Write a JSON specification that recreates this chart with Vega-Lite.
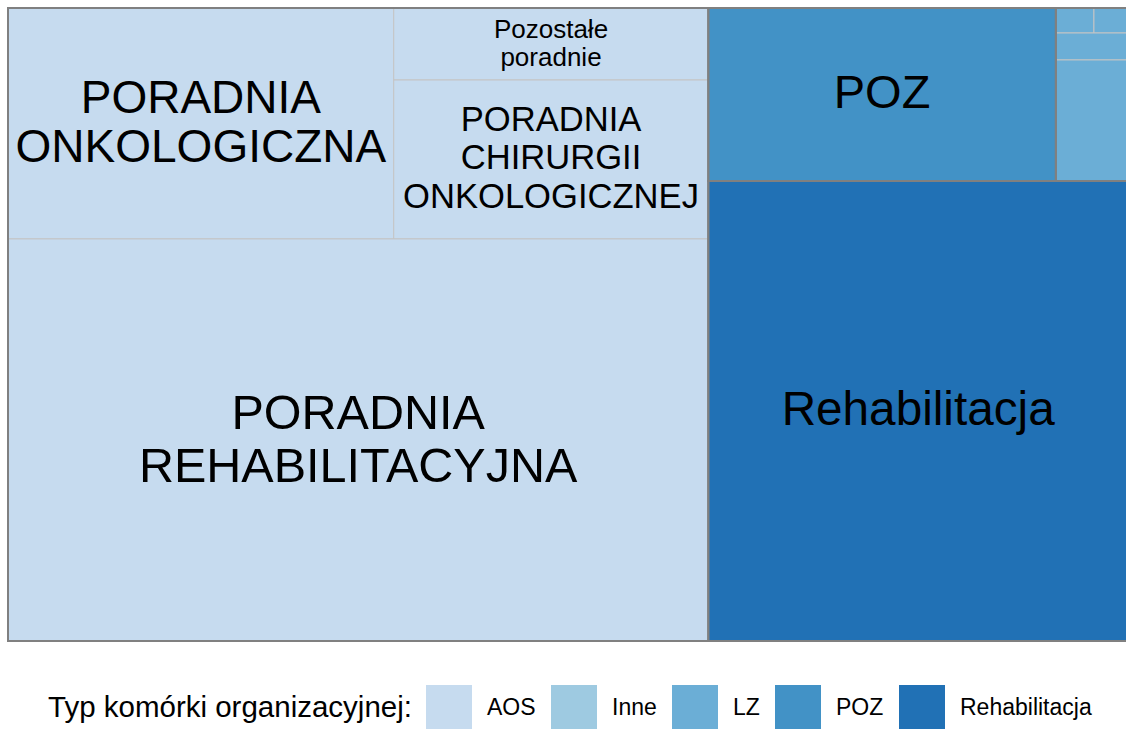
{
  "$schema": "https://vega.github.io/schema/vega-lite/v6.json",
  "width": 1120,
  "height": 633,
  "autosize": "none",
  "padding": {"left": 8, "top": 8, "right": 0, "bottom": 88},
  "background": "white",
  "config": {"view": {"stroke": null}, "font": "Liberation Sans"},
  "data": {
    "values": [
      {"id": "a1", "name": "PORADNIA ONKOLOGICZNA", "type": "AOS", "value": 889, "k1": 1, "k2": 1, "k3": 1, "k4": 1, "k5": 1},
      {"id": "a2", "name": "Pozostałe poradnie", "type": "AOS", "value": 226, "k1": 1, "k2": 1, "k3": 2, "k4": 1, "k5": 1},
      {"id": "a3", "name": "PORADNIA CHIRURGII ONKOLOGICZNEJ", "type": "AOS", "value": 499, "k1": 1, "k2": 1, "k3": 2, "k4": 2, "k5": 1},
      {"id": "a4", "name": "PORADNIA REHABILITACYJNA", "type": "AOS", "value": 2810, "k1": 1, "k2": 2, "k3": 1, "k4": 1, "k5": 1},
      {"id": "p1", "name": "POZ", "type": "POZ", "value": 600, "k1": 2, "k2": 1, "k3": 1, "k4": 1, "k5": 1},
      {"id": "l1", "name": "LZ 1", "type": "LZ", "value": 9.5, "k1": 2, "k2": 1, "k3": 2, "k4": 1, "k5": 1},
      {"id": "l2", "name": "LZ 2", "type": "LZ", "value": 8.5, "k1": 2, "k2": 1, "k3": 2, "k4": 1, "k5": 2},
      {"id": "l3", "name": "LZ 3", "type": "LZ", "value": 19.4, "k1": 2, "k2": 1, "k3": 2, "k4": 2, "k5": 1},
      {"id": "l4", "name": "LZ 4", "type": "LZ", "value": 87.1, "k1": 2, "k2": 1, "k3": 2, "k4": 3, "k5": 1},
      {"id": "r1", "name": "Rehabilitacja", "type": "Rehabilitacja", "value": 1927, "k1": 2, "k2": 2, "k3": 1, "k4": 1, "k5": 1}
    ]
  },
  "transform": [
    {"stack": "value", "groupby": [], "sort": [{"field": "k1", "order": "ascending"}], "offset": "normalize", "as": ["p1a", "p1b"]},
    {"joinaggregate": [{"op": "min", "field": "p1a", "as": "a1"}, {"op": "max", "field": "p1b", "as": "b1"}], "groupby": ["k1"]},
    {"stack": "value", "groupby": ["k1"], "sort": [{"field": "k2", "order": "ascending"}], "offset": "normalize", "as": ["p2a", "p2b"]},
    {"joinaggregate": [{"op": "min", "field": "p2a", "as": "a2"}, {"op": "max", "field": "p2b", "as": "b2"}], "groupby": ["k1", "k2"]},
    {"stack": "value", "groupby": ["k1", "k2"], "sort": [{"field": "k3", "order": "ascending"}], "offset": "normalize", "as": ["p3a", "p3b"]},
    {"joinaggregate": [{"op": "min", "field": "p3a", "as": "a3"}, {"op": "max", "field": "p3b", "as": "b3"}], "groupby": ["k1", "k2", "k3"]},
    {"stack": "value", "groupby": ["k1", "k2", "k3"], "sort": [{"field": "k4", "order": "ascending"}], "offset": "normalize", "as": ["p4a", "p4b"]},
    {"joinaggregate": [{"op": "min", "field": "p4a", "as": "a4"}, {"op": "max", "field": "p4b", "as": "b4"}], "groupby": ["k1", "k2", "k3", "k4"]},
    {"stack": "value", "groupby": ["k1", "k2", "k3", "k4"], "sort": [{"field": "k5", "order": "ascending"}], "offset": "normalize", "as": ["p5a", "p5b"]},
    {"joinaggregate": [{"op": "min", "field": "p5a", "as": "a5"}, {"op": "max", "field": "p5b", "as": "b5"}], "groupby": ["k1", "k2", "k3", "k4", "k5"]},
    {"calculate": "datum.a1 + (datum.b1 - datum.a1) * datum.a3", "as": "xa"},
    {"calculate": "datum.a1 + (datum.b1 - datum.a1) * datum.b3", "as": "xb"},
    {"calculate": "datum.xa + (datum.xb - datum.xa) * datum.a5", "as": "x0"},
    {"calculate": "datum.xa + (datum.xb - datum.xa) * datum.b5", "as": "x1"},
    {"calculate": "datum.a2 + (datum.b2 - datum.a2) * datum.a4", "as": "y0"},
    {"calculate": "datum.a2 + (datum.b2 - datum.a2) * datum.b4", "as": "y1"},
    {"calculate": "(datum.x0 + datum.x1) / 2", "as": "xc"},
    {"calculate": "(datum.y0 + datum.y1) / 2", "as": "yc"}
  ],
  "encoding": {
    "size": {
      "field": "name", "type": "nominal", "legend": null,
      "scale": {
        "type": "ordinal",
        "domain": ["PORADNIA ONKOLOGICZNA", "Pozostałe poradnie", "PORADNIA CHIRURGII ONKOLOGICZNEJ", "PORADNIA REHABILITACYJNA", "POZ", "Rehabilitacja"],
        "range": [46, 26, 34.6, 48.5, 47, 47.7]
      }
    }
  },
  "layer": [
    {
      "mark": {"type": "rect", "stroke": "#c4c4c4", "strokeWidth": 1},
      "encoding": {
        "size": null,
        "x": {"field": "x0", "type": "quantitative", "scale": {"domain": [0, 1], "nice": false, "zero": false}, "axis": null},
        "x2": {"field": "x1"},
        "y": {"field": "y0", "type": "quantitative", "scale": {"domain": [0, 1], "nice": false, "zero": false, "reverse": true}, "axis": null},
        "y2": {"field": "y1"},
        "color": {
          "field": "type", "type": "nominal",
          "scale": {"domain": ["AOS", "Inne", "LZ", "POZ", "Rehabilitacja"], "range": ["#c6dbef", "#9ecae1", "#6baed6", "#4292c6", "#2171b5"]},
          "legend": {
            "title": "Typ komórki organizacyjnej:",
            "orient": "none",
            "legendX": 40,
            "legendY": 677,
            "direction": "horizontal",
            "titleOrient": "left",
            "titleFontSize": 29.5,
            "titleFontWeight": "normal",
            "titleColor": "black",
            "titlePadding": 14,
            "titleLimit": 600,
            "titleBaseline": "middle",
            "titleAnchor": "middle",
            "labelFontSize": 23,
            "labelColor": "black",
            "labelOffset": 15,
            "labelLimit": 300,
            "columnPadding": 15,
            "symbolType": "square",
            "symbolSize": 2116,
            "symbolStrokeWidth": 0,
            "symbolOpacity": 1,
            "padding": 0
          }
        }
      }
    },
    {
      "transform": [
        {"aggregate": [
          {"op": "min", "field": "x0", "as": "gx0"},
          {"op": "max", "field": "x1", "as": "gx1"},
          {"op": "min", "field": "y0", "as": "gy0"},
          {"op": "max", "field": "y1", "as": "gy1"}
        ], "groupby": ["type"]}
      ],
      "mark": {"type": "rect", "filled": false, "stroke": "#808080", "strokeWidth": 2},
      "encoding": {
        "size": null,
        "x": {"field": "gx0", "type": "quantitative"},
        "x2": {"field": "gx1"},
        "y": {"field": "gy0", "type": "quantitative"},
        "y2": {"field": "gy1"}
      }
    },
    {
      "transform": [{"filter": "datum.name === 'POZ' || datum.name === 'Rehabilitacja'"}],
      "mark": {"type": "text", "align": "center", "baseline": "middle", "lineBreak": " ", "color": "black", "font": "Liberation Sans"},
      "encoding": {
        "x": {"field": "xc", "type": "quantitative"},
        "y": {"field": "yc", "type": "quantitative"},
        "text": {"field": "name", "type": "nominal"}
      }
    },
    {
      "transform": [{"filter": "datum.name === 'PORADNIA ONKOLOGICZNA'"}],
      "mark": {"type": "text", "align": "center", "baseline": "middle", "lineBreak": " ", "lineHeight": 49, "dy": -24.5, "color": "black", "font": "Liberation Sans"},
      "encoding": {
        "x": {"field": "xc", "type": "quantitative"},
        "y": {"field": "yc", "type": "quantitative"},
        "text": {"field": "name", "type": "nominal"}
      }
    },
    {
      "transform": [{"filter": "datum.name === 'PORADNIA REHABILITACYJNA'"}],
      "mark": {"type": "text", "align": "center", "baseline": "middle", "lineBreak": " ", "lineHeight": 53, "dy": -25.5, "color": "black", "font": "Liberation Sans"},
      "encoding": {
        "x": {"field": "xc", "type": "quantitative"},
        "y": {"field": "yc", "type": "quantitative"},
        "text": {"field": "name", "type": "nominal"}
      }
    },
    {
      "transform": [{"filter": "datum.name === 'Pozostałe poradnie'"}],
      "mark": {"type": "text", "align": "center", "baseline": "middle", "lineBreak": " ", "lineHeight": 28, "dy": -13.5, "color": "black", "font": "Liberation Sans"},
      "encoding": {
        "x": {"field": "xc", "type": "quantitative"},
        "y": {"field": "yc", "type": "quantitative"},
        "text": {"field": "name", "type": "nominal"}
      }
    },
    {
      "transform": [{"filter": "datum.name === 'PORADNIA CHIRURGII ONKOLOGICZNEJ'"}],
      "mark": {"type": "text", "align": "center", "baseline": "middle", "lineBreak": " ", "lineHeight": 38.5, "dy": -38.5, "color": "black", "font": "Liberation Sans"},
      "encoding": {
        "x": {"field": "xc", "type": "quantitative"},
        "y": {"field": "yc", "type": "quantitative"},
        "text": {"field": "name", "type": "nominal"}
      }
    }
  ]
}
